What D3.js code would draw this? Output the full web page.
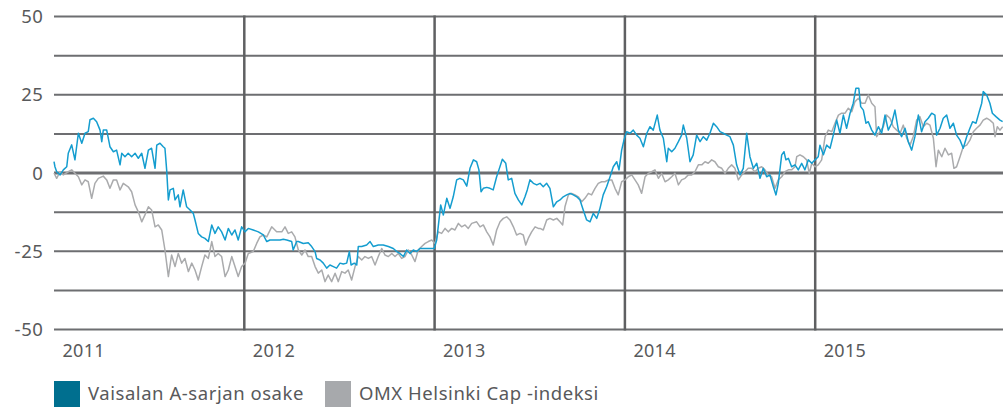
<!DOCTYPE html>
<html>
<head>
<meta charset="utf-8">
<script src="https://cdn.jsdelivr.net/npm/d3@7"></script>
<style>
  html, body { margin: 0; padding: 0; background: #fff; }
  svg { display: block; }
  text { font-family: "Noto Sans", sans-serif; fill: #58595b; }
</style>
</head>
<body>
<svg id="chart" width="1003" height="407"></svg>
<script>
// ---- data ----
const seriesNames = ["Vaisalan A-sarjan osake", "OMX Helsinki Cap -indeksi"];
const yearLabels = [2011, 2012, 2013, 2014, 2015];
const yTickLabels = [50, 25, 0, -25, -50];
const yGridValues = [50, 37.5, 25, 12.5, 0, -12.5, -25, -37.5, -50];

const vaisalaYears = [
2011.000,2011.005,2011.014,2011.032,2011.049,2011.067,2011.075,2011.093,2011.110,2011.128,2011.146,2011.163,2011.180,2011.189,2011.207,2011.224,2011.242,2011.251,2011.259,2011.277,
2011.294,2011.312,2011.329,2011.347,2011.356,2011.373,2011.390,2011.408,2011.426,2011.443,2011.461,2011.478,2011.496,2011.513,2011.531,2011.540,2011.557,2011.574,2011.583,2011.592,
2011.601,2011.610,2011.627,2011.636,2011.653,2011.662,2011.679,2011.697,2011.715,2011.732,2011.741,2011.758,2011.776,2011.793,2011.811,2011.829,2011.846,2011.863,2011.881,2011.899,
2011.916,2011.934,2011.951,2011.968,2011.986,2012.004,2012.021,2012.047,2012.074,2012.100,2012.118,2012.135,2012.161,2012.188,2012.205,2012.223,2012.249,2012.257,2012.275,2012.284,
2012.310,2012.336,2012.354,2012.372,2012.380,2012.398,2012.415,2012.433,2012.450,2012.468,2012.485,2012.503,2012.520,2012.538,2012.552,2012.561,2012.578,2012.591,2012.599,2012.617,
2012.643,2012.661,2012.678,2012.704,2012.730,2012.757,2012.783,2012.801,2012.818,2012.836,2012.853,2012.871,2012.888,2012.906,2012.923,2012.950,2012.976,2012.998,2013.011,2013.019,
2013.032,2013.046,2013.064,2013.081,2013.098,2013.116,2013.133,2013.151,2013.169,2013.186,2013.204,2013.221,2013.233,2013.244,2013.256,2013.274,2013.291,2013.308,2013.326,2013.338,
2013.356,2013.374,2013.387,2013.405,2013.422,2013.440,2013.458,2013.475,2013.487,2013.501,2013.519,2013.537,2013.554,2013.571,2013.589,2013.606,2013.624,2013.642,2013.659,2013.676,
2013.694,2013.712,2013.729,2013.747,2013.764,2013.781,2013.799,2013.817,2013.834,2013.852,2013.869,2013.886,2013.904,2013.922,2013.939,2013.957,2013.969,2013.983,2013.995,2014.009,
2014.027,2014.044,2014.062,2014.079,2014.097,2014.115,2014.132,2014.149,2014.170,2014.184,2014.202,2014.220,2014.228,2014.246,2014.263,2014.281,2014.298,2014.307,2014.325,2014.342,
2014.359,2014.377,2014.395,2014.412,2014.430,2014.447,2014.465,2014.482,2014.500,2014.517,2014.535,2014.552,2014.570,2014.587,2014.605,2014.622,2014.640,2014.657,2014.675,2014.693,
2014.710,2014.727,2014.745,2014.762,2014.780,2014.794,2014.806,2014.824,2014.836,2014.846,2014.859,2014.876,2014.894,2014.911,2014.929,2014.946,2014.964,2014.982,2014.999,2015.016,
2015.025,2015.043,2015.060,2015.078,2015.095,2015.113,2015.130,2015.148,2015.165,2015.183,2015.200,2015.214,2015.229,2015.239,2015.253,2015.267,2015.279,2015.297,2015.314,2015.332,
2015.349,2015.367,2015.384,2015.402,2015.419,2015.437,2015.454,2015.472,2015.489,2015.507,2015.524,2015.542,2015.559,2015.577,2015.594,2015.612,2015.629,2015.638,2015.656,2015.673,
2015.691,2015.708,2015.726,2015.743,2015.761,2015.778,2015.796,2015.813,2015.827,2015.845,2015.862,2015.875,2015.883,2015.901,2015.918,2015.931,2015.950,2015.971,2015.985
];
const vaisalaValues = [
3.6,2,0.4,-0.6,1,2,6.3,9,4.2,12.7,9.5,12.7,13.2,17,17.5,16.4,13.7,10,13.7,13.7,
8.4,6.8,7.3,2.6,6.3,5.2,6.3,5.2,6.3,4.7,6.3,1.5,7.3,7.9,1.5,8.9,9.5,8.4,7.9,1,
-8.6,-5.4,-4.9,-8.6,-7,-10.8,-5.4,-10.8,-11.8,-12.9,-15,-19.3,-20.4,-20.9,-21.9,-16.6,-19.3,-17.2,-18.8,-21.4,
-17.7,-19.8,-18.2,-21.4,-17.2,-18.8,-17.7,-18.2,-18.8,-19.8,-21.9,-21.4,-21.4,-21.4,-21.2,-21.4,-21.9,-24.6,-21.9,-21.9,
-22.5,-22.3,-23.5,-25.1,-27.3,-27.8,-28.8,-30.4,-29.4,-29.9,-30.4,-28.8,-29.1,-28.8,-25.1,-29.4,-28.8,-29.4,-23.5,-23.5,
-23,-21.9,-23.5,-23,-23,-23.5,-24.1,-25.1,-25.7,-26.7,-24.6,-25.7,-24.6,-25.1,-24.1,-24.1,-24.1,-24.1,-21.4,-17.2,
-10.2,-13.4,-8.1,-11.3,-7.6,-2.2,-1.7,-2.2,-4.2,1.5,4.2,3.6,1,-6,-4.9,-4.6,-4.9,-5.4,-1.2,1,
4.4,3.1,-2.2,-1.7,-6.5,-8.6,-10.2,-7.6,-5.4,-2.2,-3.3,-3.8,-3.3,-4.4,-3.3,-4.9,-10.8,-9.2,-8.6,-7.6,
-7,-6.5,-7,-7.6,-8.6,-11.8,-15,-15.6,-12.9,-14.5,-11.3,-7,-4.4,-1.2,2,3.6,1,7.3,10.5,13.2,
12.7,13.7,12.1,11.1,8.4,12.7,14.8,13.7,18.5,13.7,11.1,3.6,7.9,6.8,7.9,10,12.1,15.3,11.1,3.6,
5.8,12.1,10,11.6,10.5,12.7,15.9,14.8,13.2,12.7,12.1,11.6,8.9,2.6,-0.6,1.5,12.7,5.2,1.5,3.1,
-1.7,1.5,-1.2,-0.6,-4.4,-7,-3.3,5.8,6.8,4.2,4.7,2,2.6,1,3.1,1,4.2,3.1,4.2,5.2,
8.9,5.8,8.9,7.9,12.1,16.9,12.7,18.5,14.3,19.1,22.3,27.1,27.1,21.2,20.1,15.9,16.4,13.7,12.1,14.8,
12.7,18.5,13.7,15.9,20.1,13.7,11.6,14.3,10,7.3,11.6,18.5,13.2,16.4,17.5,19.1,18.5,12.1,14.3,17.5,
18.5,14.3,15.9,12.1,10.5,7.9,11.6,14.3,16.4,15.9,19.6,22.3,26,24.9,22.3,19.1,18,16.9,16.4
];

const omxYears = [
2011.000,2011.014,2011.032,2011.049,2011.075,2011.093,2011.110,2011.128,2011.146,2011.163,2011.180,2011.198,2011.215,2011.233,2011.259,2011.277,2011.294,2011.312,2011.329,2011.347,
2011.364,2011.390,2011.408,2011.426,2011.443,2011.461,2011.478,2011.496,2011.513,2011.531,2011.548,2011.566,2011.583,2011.601,2011.618,2011.636,2011.653,2011.671,2011.688,2011.706,
2011.724,2011.741,2011.758,2011.776,2011.793,2011.811,2011.829,2011.846,2011.863,2011.881,2011.899,2011.916,2011.934,2011.951,2011.968,2011.986,2012.004,2012.021,2012.047,2012.065,
2012.082,2012.100,2012.118,2012.144,2012.170,2012.197,2012.214,2012.231,2012.249,2012.266,2012.284,2012.302,2012.319,2012.336,2012.354,2012.372,2012.389,2012.407,2012.424,2012.441,
2012.459,2012.477,2012.494,2012.512,2012.529,2012.546,2012.564,2012.582,2012.599,2012.617,2012.634,2012.652,2012.669,2012.687,2012.704,2012.722,2012.739,2012.757,2012.775,2012.792,
2012.809,2012.827,2012.844,2012.862,2012.880,2012.897,2012.914,2012.932,2012.950,2012.967,2012.985,2013.002,2013.019,2013.037,2013.055,2013.072,2013.090,2013.107,2013.125,2013.142,
2013.160,2013.177,2013.195,2013.221,2013.239,2013.256,2013.274,2013.291,2013.308,2013.326,2013.344,2013.361,2013.379,2013.396,2013.414,2013.431,2013.449,2013.466,2013.479,2013.492,
2013.510,2013.528,2013.545,2013.554,2013.571,2013.589,2013.606,2013.624,2013.642,2013.659,2013.673,2013.685,2013.703,2013.720,2013.738,2013.755,2013.773,2013.790,2013.808,2013.825,
2013.843,2013.860,2013.878,2013.895,2013.913,2013.931,2013.948,2013.965,2013.983,2014.001,2014.018,2014.036,2014.053,2014.070,2014.088,2014.106,2014.123,2014.141,2014.158,2014.176,
2014.193,2014.211,2014.228,2014.246,2014.263,2014.281,2014.298,2014.316,2014.333,2014.351,2014.368,2014.386,2014.404,2014.421,2014.438,2014.456,2014.473,2014.491,2014.509,2014.526,
2014.543,2014.561,2014.578,2014.596,2014.614,2014.631,2014.648,2014.666,2014.683,2014.701,2014.719,2014.736,2014.754,2014.771,2014.789,2014.806,2014.824,2014.841,2014.859,2014.876,
2014.894,2014.903,2014.920,2014.938,2014.955,2014.969,2014.982,2014.999,2015.016,2015.034,2015.052,2015.069,2015.087,2015.104,2015.122,2015.139,2015.157,2015.174,2015.192,2015.209,
2015.227,2015.244,2015.262,2015.279,2015.297,2015.314,2015.323,2015.340,2015.358,2015.375,2015.393,2015.410,2015.428,2015.446,2015.463,2015.481,2015.498,2015.515,2015.533,2015.550,
2015.568,2015.586,2015.603,2015.621,2015.635,2015.647,2015.665,2015.682,2015.700,2015.717,2015.729,2015.743,2015.761,2015.778,2015.796,2015.813,2015.831,2015.848,2015.866,2015.883,
2015.901,2015.918,2015.936,2015.945,2015.957,2015.971,2015.985
];
const omxValues = [
0,-1.7,0.4,-0.6,0.4,1,-0.1,-1.2,-3.8,-2.2,-2.8,-8.1,-3.3,-1.7,-1,-2.2,-4.9,-2.2,-2.2,-5.4,
-3.3,-4.4,-6,-10.2,-12.4,-15.6,-13.4,-10.8,-11.8,-17.2,-16.6,-18.2,-24.6,-33.1,-26.2,-29.9,-25.7,-28.8,-27.3,-31.5,
-28.8,-31,-34.2,-29.9,-26.2,-27.3,-21.9,-26.7,-25.7,-26.7,-33.1,-31,-26.7,-29.9,-33.1,-29.9,-28.8,-25.7,-25.1,-22.5,
-20.4,-19.8,-20.4,-17.2,-18.8,-18.8,-17.2,-19.3,-18.8,-20.4,-24.6,-26.2,-24.6,-26.7,-26.7,-29.9,-32,-31,-34.7,-32.6,
-34.7,-32,-34.7,-31.5,-32,-31,-34.2,-29.9,-26.7,-27.8,-26.7,-27.3,-26.7,-29.4,-26.7,-24.1,-26.2,-26.7,-25.7,-26.7,
-25.7,-27.3,-26.7,-24.6,-26.2,-28.3,-24.6,-23.5,-22.5,-21.9,-21.4,-22.5,-18.8,-19.3,-17.7,-18.8,-17.7,-18.2,-16.1,-17.2,
-16.6,-17.7,-16.1,-15.6,-17.2,-16.6,-18.8,-20.4,-23,-18.2,-15.6,-14.5,-14,-15,-17.2,-19.8,-19.3,-19.8,-23,-20.9,
-18.8,-17.2,-17.7,-17.7,-18.2,-15,-14.5,-15,-14.5,-15.6,-16.6,-10.8,-7,-6.5,-7,-7.6,-9.2,-8.1,-6.5,-7,
-4.9,-3.3,-2.8,-2.8,-2.2,-2.2,-4.9,-7,-2.8,-2.2,-1.2,-0.6,-2.2,-3.8,-6.5,-1.2,-0.1,0.4,1,-1.7,
-0.1,-2.8,-2.2,-1.2,-0.1,-3.8,-2.2,-1.7,-0.6,-0.6,0.4,2.6,2.6,3.6,3.1,4.2,3.6,2,1.5,-0.1,
1.5,2.6,1.5,-2.2,-0.6,0.4,1.5,1.5,0.4,1.5,2,1,-0.6,-1.2,-4.9,-2.2,-1.2,0.4,1,1,
2,5.2,5.8,5.2,4.2,-0.1,3.1,2,2.6,4.2,11.6,13.7,13.2,15.9,18.5,19.1,19.1,20.7,19.6,22.8,
23.9,22.3,22.3,24.9,22.3,21.2,11.6,13.2,14.8,18.5,17.5,14.8,13.7,12.7,15.3,11.1,8.9,11.6,16.9,18,
14.8,15.9,15.3,11.1,2,7.3,5.2,7.9,5.8,6.3,1.5,2,5.2,8.4,8.9,10.5,13.2,14.3,15.3,16.9,
17.5,16.9,15.9,11.6,14.8,13.7,14.8
];

// ---- layout ----
const svg = d3.select("#chart");
const left = 54, yearWidth = 190.3;
const x = d3.scaleLinear().domain([2011, 2016]).range([left, left + 5 * yearWidth]);
const y = d3.scaleLinear().domain([-50, 50]).range([329.5, 16.5]);
const plotRight = 1003;

const gridColor = "#6d6e71";
const vColor = "#5f6062";

// horizontal grid
svg.append("g").selectAll("line").data(yGridValues).join("line")
  .attr("x1", left).attr("x2", plotRight)
  .attr("y1", d => y(d)).attr("y2", d => y(d))
  .attr("stroke", gridColor)
  .attr("stroke-width", d => d === 0 ? 3 : 2);

// vertical year lines
svg.append("g").selectAll("line").data(yearLabels.slice(1)).join("line")
  .attr("x1", d => x(d)).attr("x2", d => x(d))
  .attr("y1", y(50) - 1).attr("y2", y(-50) + 1)
  .attr("stroke", vColor)
  .attr("stroke-width", 2.5);

// y labels
svg.append("g").selectAll("text").data(yTickLabels).join("text")
  .attr("x", 43.5).attr("y", d => y(d))
  .attr("dy", "0.36em")
  .attr("text-anchor", "end")
  .style("font-size", "18.5px")
  .style("letter-spacing", "0.6px")
  .text(d => d);

// year labels
svg.append("g").selectAll("text").data(yearLabels).join("text")
  .attr("x", d => x(d) + 8.5).attr("y", 357)
  .style("font-size", "18px")
  .style("letter-spacing", "0.3px")
  .text(d => d);

// lines
const line = d3.line().x(d => x(d[0])).y(d => y(d[1]));
const omxData = d3.zip(omxYears, omxValues);
const vaisalaData = d3.zip(vaisalaYears, vaisalaValues);

svg.append("path").datum(omxData)
  .attr("d", line).attr("fill", "none")
  .attr("stroke", "#aaabad").attr("stroke-width", 1.5)
  .attr("stroke-linejoin", "round");
svg.append("path").datum(vaisalaData)
  .attr("d", line).attr("fill", "none")
  .attr("stroke", "#149dcf").attr("stroke-width", 1.5)
  .attr("stroke-linejoin", "round");

// legend
const legendColors = ["#006f8f", "#a7a9ac"];
const legendX = [54, 325];
const lg = svg.append("g").selectAll("g").data(seriesNames).join("g")
  .attr("transform", (d, i) => `translate(${legendX[i]},381)`);
lg.append("rect").attr("width", 26).attr("height", 26)
  .attr("fill", (d, i) => legendColors[i]);
lg.append("text").attr("x", 34).attr("y", 19)
  .style("font-size", "18.5px")
  .style("letter-spacing", "0.55px")
  .text(d => d);
</script>
</body>
</html>
